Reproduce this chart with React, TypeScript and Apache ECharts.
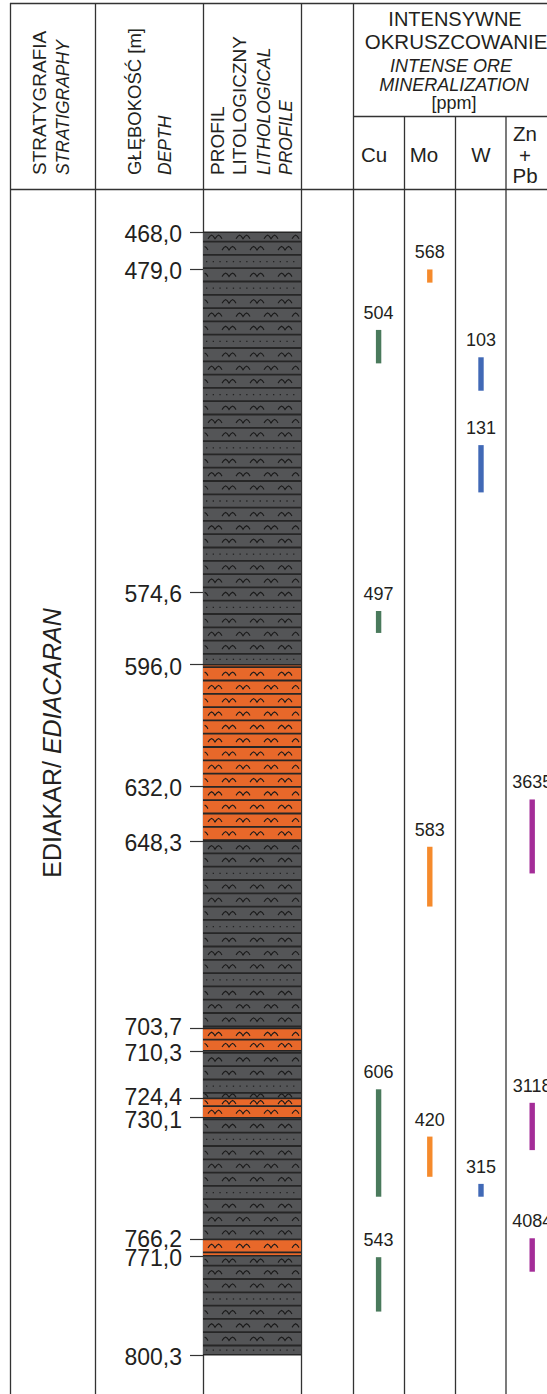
import React, { useEffect, useRef } from "react";
import * as echarts from "echarts";

const FONT = "'Liberation Sans', Arial, Helvetica, sans-serif";
const INK = "#231f20";
const RULE = "#333333";

// Depth range of the logged interval [m]
const DEPTH_TOP = 468.0;
const DEPTH_BOTTOM = 800.3;

// Depths written on the depth scale
const depthMarks = [468.0, 479.0, 574.6, 596.0, 632.0, 648.3, 703.7, 710.3, 724.4, 730.1, 766.2, 771.0, 800.3];

// Lithological layers
const layerTops = [468.0, 596.0, 648.3, 703.7, 710.3, 724.4, 730.1, 766.2, 771.0];
const layerBottoms = [596.0, 648.3, 703.7, 710.3, 724.4, 730.1, 766.2, 771.0, 800.3];
const layerKinds = ["grey", "orange", "grey", "orange", "grey", "orange", "grey", "orange", "grey"];

// Intense ore mineralization: interval top, interval bottom [m], content [ppm]
const elements = ["Cu", "Mo", "W", "Zn+Pb"];
const cuFrom = [496.9, 580.1, 721.7, 771.4];
const cuTo = [506.8, 586.6, 753.5, 787.5];
const cuPpm = [504, 497, 606, 543];
const moFrom = [479.0, 649.9, 735.7];
const moTo = [482.9, 667.6, 747.6];
const moPpm = [568, 583, 420];
const wFrom = [505.0, 531.0, 749.7];
const wTo = [514.9, 545.0, 753.5];
const wPpm = [103, 131, 315];
const znPbFrom = [635.9, 725.7, 765.8];
const znPbTo = [657.8, 739.7, 775.7];
const znPbPpm = [3635, 3118, 4084];

const elementColors = ["#4a7a5c", "#f58a2c", "#4169b6", "#a42d98"];
const layerColors: Record<string, string> = { grey: "#545557", orange: "#e8682a" };

const PLOT_TOP = 232.3;
const PX_PER_M = 3.378;
const PLOT_H = (DEPTH_BOTTOM - DEPTH_TOP) * PX_PER_M;

function fmtDepth(v: number) {
  return v.toFixed(1).replace(".", ",");
}

// depth label, nudged apart from a close neighbour
function depthLabel(v: number) {
  const i = depthMarks.indexOf(v);
  const n = depthMarks.length;
  const nextClose = i >= 0 && i < n - 1 && depthMarks[i + 1] - v < 7;
  const prevClose = i > 0 && v - depthMarks[i - 1] < 7;
  const key = nextClose ? "up" : prevClose ? "dn" : "n";
  return `{${key}|${fmtDepth(v)}}`;
}

// lithology column: filled layer with banded symbol texture
function renderLayer(params: any, api: any) {
  const top = api.value(0);
  const bottom = api.value(1);
  const idx = api.value(2);
  const kind = layerKinds[idx];
  const a = api.coord([0, top]);
  const b = api.coord([1, bottom]);
  const x0 = a[0], x1 = b[0], y0 = a[1], y1 = b[1];
  const origin = api.coord([0, DEPTH_TOP])[1] - 4;
  const step = 13.3;
  const children: any[] = [
    { type: "rect", shape: { x: x0, y: y0, width: x1 - x0, height: y1 - y0 }, style: { fill: layerColors[kind] } },
  ];
  const kStart = Math.floor((y0 - origin) / step);
  const kEnd = Math.ceil((y1 - origin) / step);
  const hump = [[0, 1.8], [1.8, -0.6], [3.6, -1.8], [5.4, -0.6], [7, 1.8], [8.8, -0.6], [10.6, -1.8], [12.4, -0.6], [14, 1.8]];
  for (let k = kStart; k <= kEnd; k++) {
    const sTop = origin + k * step;
    const sBot = sTop + step;
    const t = Math.max(sTop, y0);
    const bt = Math.min(sBot, y1);
    if (sTop > y0 + 1 && sTop < y1 - 1) {
      children.push({
        type: "line",
        shape: { x1: x0, y1: sTop, x2: x1, y2: sTop },
        style: { stroke: "#262626", lineWidth: 1.8 },
      });
    }
    if (bt - t < 4) continue;
    const cy = (t + bt) / 2;
    const dotted = kind === "grey" && ((k % 4 === 0 && k > 0) || k === 2);
    if (dotted) {
      for (let x = x0 + 3; x < x1 - 2; x += 6.7) {
        children.push({ type: "rect", shape: { x: x, y: cy - 0.6, width: 1.3, height: 1.3 }, style: { fill: "#222222" } });
      }
    } else {
      const shift = (k % 2) * 14;
      for (let gx = x0 + 5 + shift - 28; gx < x1; gx += 28) {
        const pts = hump.map((p) => [gx + p[0], cy + p[1]]).filter((p) => p[0] >= x0 + 1 && p[0] <= x1 - 1);
        if (pts.length < 2) continue;
        children.push({
          type: "polyline",
          shape: { points: pts },
          style: { stroke: "#1a1a1a", lineWidth: 1.1, fill: null },
        });
      }
    }
  }
  children.push({ type: "line", shape: { x1: x0, y1: y0, x2: x1, y2: y0 }, style: { stroke: "#262626", lineWidth: 1.5 } });
  children.push({ type: "line", shape: { x1: x0, y1: y1, x2: x1, y2: y1 }, style: { stroke: "#262626", lineWidth: 1.5 } });
  return { type: "group", children };
}

// ore interval bar with its ppm value written above
function makeOreRenderer(color: string) {
  return (params: any, api: any) => {
    const c = api.value(0);
    const top = api.value(1);
    const bottom = api.value(2);
    const ppm = api.value(3);
    const pt = api.coord([c, top]);
    const pb = api.coord([c, bottom]);
    return {
      type: "group",
      children: [
        { type: "rect", shape: { x: pt[0] - 2.7, y: pt[1], width: 5.4, height: pb[1] - pt[1] }, style: { fill: color } },
        {
          type: "text",
          x: pt[0],
          y: pt[1] - 17,
          style: {
            text: String(ppm),
            fontSize: 18,
            fontFamily: FONT,
            fill: INK,
            align: "center",
            verticalAlign: "middle",
            textAlign: "center",
            textVerticalAlign: "middle",
          },
        },
      ],
    };
  };
}

function vline(x: number, y1: number, y2: number) {
  return { type: "line", shape: { x1: x, y1, x2: x, y2 }, style: { stroke: RULE, lineWidth: 1.3 }, silent: true };
}
function hline(y: number, x1: number, x2: number) {
  return { type: "line", shape: { x1, y1: y, x2, y2: y }, style: { stroke: RULE, lineWidth: 1.3 }, silent: true };
}
// header caption reading bottom-to-top
function vtext(x: number, text: string, size: number, italic = false) {
  return {
    type: "text",
    x,
    y: 175,
    rotation: Math.PI / 2,
    silent: true,
    style: {
      text,
      fontSize: size,
      fontStyle: italic ? "italic" : "normal",
      fontFamily: FONT,
      fill: INK,
      align: "left",
      verticalAlign: "middle",
      textAlign: "left",
      textVerticalAlign: "middle",
    },
  };
}
function htext(x: number, y: number, text: string, size: number, italic = false) {
  return {
    type: "text",
    x,
    y,
    silent: true,
    style: {
      text,
      fontSize: size,
      fontStyle: italic ? "italic" : "normal",
      fontFamily: FONT,
      fill: INK,
      align: "center",
      verticalAlign: "middle",
      textAlign: "center",
      textVerticalAlign: "middle",
    },
  };
}

function buildOption(): any {
  const oreSets = [
    [cuFrom, cuTo, cuPpm],
    [moFrom, moTo, moPpm],
    [wFrom, wTo, wPpm],
    [znPbFrom, znPbTo, znPbPpm],
  ];
  const oreSeries = oreSets.map((set, e) => ({
    type: "custom",
    name: elements[e],
    xAxisIndex: 1,
    yAxisIndex: 1,
    clip: false,
    silent: true,
    encode: { x: 0, y: [1, 2] },
    data: set[0].map((from, i) => [e, from, set[1][i], set[2][i]]),
    renderItem: makeOreRenderer(elementColors[e]),
  }));

  const H = 1394;
  const graphic: any[] = [
    hline(3.5, 10, 547),
    hline(189.5, 10, 547),
    hline(116.5, 353, 547),
    vline(10.5, 3, H),
    vline(95.5, 3, H),
    vline(203.5, 3, H),
    vline(301.5, 3, H),
    vline(353.5, 3, H),
    vline(404.5, 116.5, H),
    vline(455.5, 116.5, H),
    vline(506, 116.5, H),
    vtext(39.5, "STRATYGRAFIA", 19),
    vtext(62.5, "STRATIGRAPHY", 17.5, true),
    vtext(134, "GŁĘBOKOŚĆ [m]", 18.5),
    vtext(164.5, "DEPTH", 17.5, true),
    vtext(217, "PROFIL", 19),
    vtext(239, "LITOLOGICZNY", 19),
    vtext(264, "LITHOLOGICAL", 17.5, true),
    vtext(286, "PROFILE", 17.5, true),
    htext(455, 18.5, "INTENSYWNE", 20),
    htext(456, 41.5, "OKRUSZCOWANIE", 20.5),
    htext(451, 66.3, "INTENSE ORE", 18, true),
    htext(454, 84.5, "MINERALIZATION", 18, true),
    htext(454, 102.5, "[ppm]", 18),
    htext(374, 154.5, "Cu", 20.5),
    htext(424, 154.5, "Mo", 20.5),
    htext(481, 154.5, "W", 20.5),
    htext(525, 133, "Zn", 20.5),
    htext(525, 155, "+", 20.5),
    htext(525, 175.5, "Pb", 20.5),
    {
      type: "text",
      x: 52,
      y: 743,
      rotation: Math.PI / 2,
      silent: true,
      style: {
        text: "EDIAKAR/ {i|EDIACARAN}",
        fontSize: 25,
        fontFamily: FONT,
        fill: INK,
        align: "center",
        verticalAlign: "middle",
        textAlign: "center",
        textVerticalAlign: "middle",
        rich: { i: { fontStyle: "italic", fontSize: 25, fontFamily: FONT, fill: INK } },
      },
    },
  ];

  const labelStyle = { fontSize: 23, fontFamily: FONT, color: INK, lineHeight: 15 };

  return {
    animation: false,
    backgroundColor: "#ffffff",
    grid: [
      { left: 203, top: PLOT_TOP, width: 98, height: PLOT_H },
      { left: 353, top: PLOT_TOP, width: 194, height: PLOT_H },
    ],
    xAxis: [
      { gridIndex: 0, type: "value", min: 0, max: 1, show: false },
      // element columns are 51.2 px wide; the last one runs past the page edge
      { gridIndex: 1, type: "value", min: -0.5, max: -0.5 + 194 / 51.2, show: false },
    ],
    yAxis: [
      {
        gridIndex: 0,
        type: "value",
        inverse: true,
        min: DEPTH_TOP,
        max: DEPTH_BOTTOM,
        position: "left",
        axisLine: { show: false },
        splitLine: { show: false },
        axisTick: {
          show: true,
          customValues: depthMarks,
          length: 13,
          lineStyle: { color: RULE, width: 1.2 },
        },
        axisLabel: {
          customValues: depthMarks,
          margin: 21,
          fontSize: 23,
          fontFamily: FONT,
          color: INK,
          formatter: (v: number) => depthLabel(v),
          rich: {
            n: { ...labelStyle, padding: [4, 0, 0, 0] },
            up: { ...labelStyle, padding: [0, 0, 2, 0] },
            dn: { ...labelStyle, padding: [5, 0, 0, 0] },
          },
        },
      },
      { gridIndex: 1, type: "value", inverse: true, min: DEPTH_TOP, max: DEPTH_BOTTOM, show: false },
    ],
    graphic,
    series: [
      {
        type: "custom",
        name: "lithology",
        xAxisIndex: 0,
        yAxisIndex: 0,
        clip: false,
        silent: true,
        encode: { y: [0, 1] },
        data: layerTops.map((t, i) => [t, layerBottoms[i], i]),
        renderItem: renderLayer,
      },
      ...oreSeries,
    ],
  };
}

export default function App() {
  const ref = useRef<HTMLDivElement>(null);
  useEffect(() => {
    if (!ref.current) return;
    const chart = echarts.init(ref.current, undefined, { renderer: "svg" });
    chart.setOption(buildOption());
    return () => chart.dispose();
  }, []);
  return (
    <div
      ref={ref}
      style={{ position: "absolute", left: 0, top: 0, width: 547, height: 1394, background: "#fff" }}
    />
  );
}
